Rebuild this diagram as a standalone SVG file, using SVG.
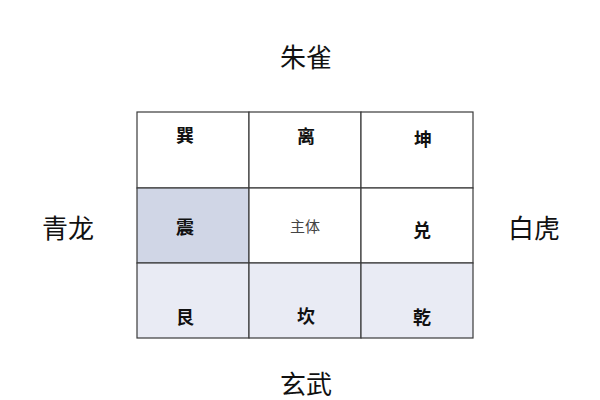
<svg xmlns="http://www.w3.org/2000/svg" width="600" height="400" viewBox="0 0 600 400">
<style>
.cell{stroke:#3a3a3a;stroke-width:1.2}
.w{fill:#ffffff}
.hl{fill:#d0d6e6}
.lt{fill:#e9ebf4}
.g{font-family:"Noto Sans CJK SC","Noto Sans",sans-serif;font-weight:bold;font-size:18px;fill:#111;text-anchor:middle}
.s{font-family:"Noto Sans CJK SC","Noto Sans",sans-serif;font-size:15px;fill:#444;text-anchor:middle}
.d{font-family:"Noto Sans CJK SC","Noto Sans",sans-serif;font-size:26px;fill:#111;text-anchor:middle}
</style>
<rect width="600" height="400" fill="#ffffff"/>
<g id="grid">
<g id="xun"><rect class="cell w" x="137" y="112" width="112" height="76"/><text class="g" x="185" y="142">巽</text></g>
<g id="li"><rect class="cell w" x="249" y="112" width="112" height="76"/><text class="g" x="306" y="143">离</text></g>
<g id="kun"><rect class="cell w" x="361" y="112" width="112" height="76"/><text class="g" x="423" y="146">坤</text></g>
<g id="zhen"><rect class="cell hl" x="137" y="188" width="112" height="75"/><text class="g" x="185" y="234">震</text></g>
<g id="zhuti"><rect class="cell w" x="249" y="188" width="112" height="75"/><text class="s" x="305" y="232">主体</text></g>
<g id="dui"><rect class="cell w" x="361" y="188" width="112" height="75"/><text class="g" x="422" y="237">兑</text></g>
<g id="gen"><rect class="cell lt" x="137" y="263" width="112" height="75"/><text class="g" x="185" y="324">艮</text></g>
<g id="kan"><rect class="cell lt" x="249" y="263" width="112" height="75"/><text class="g" x="306" y="323">坎</text></g>
<g id="qian"><rect class="cell lt" x="361" y="263" width="112" height="75"/><text class="g" x="422" y="324">乾</text></g>
</g>
<g id="zhuque"><text class="d" x="306" y="67">朱雀</text></g>
<g id="qinglong"><text class="d" x="68" y="238">青龙</text></g>
<g id="baihu"><text class="d" x="534" y="238">白虎</text></g>
<g id="xuanwu"><text class="d" x="306" y="394">玄武</text></g>
<g id="connectors"></g>
</svg>
